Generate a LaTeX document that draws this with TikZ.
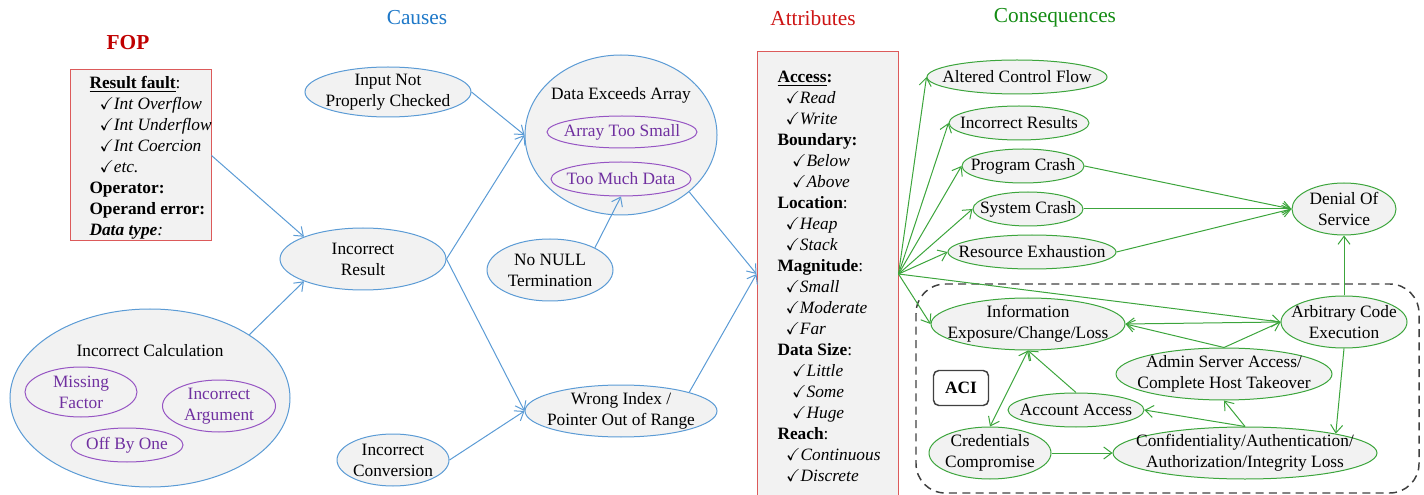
\documentclass[tikz,border=0pt]{standalone}
\usepackage{amsmath}
\usepackage{amssymb}
\usepackage{fontspec}
\setmainfont{Liberation Serif}
\usepackage{tikz}
\usetikzlibrary{shapes.geometric,arrows.meta}
\tikzset{every picture/.style={line width=0.75pt}}

\newcommand{\diagfont}{\fontsize{13}{15.75}\selectfont}
\newcommand{\headfont}{\fontsize{16}{19}\selectfont}
\newcommand{\chk}{$\checkmark$}

\tikzset{
  oval/.style 2 args={ellipse, draw, fill={rgb, 255:red, 242; green, 242; blue, 242}, inner sep=-20pt,
    minimum width=#1*0.75pt, minimum height=#2*0.75pt, align=center, font=\diagfont},
  causeoval/.style={draw={rgb, 255:red, 91; green, 155; blue, 213}},
  subcause/.style={draw={rgb, 255:red, 150; green, 85; blue, 195}, text={rgb, 255:red, 112; green, 48; blue, 160}},
  consoval/.style={draw={rgb, 255:red, 60; green, 165; blue, 60}},
  redbox/.style={draw={rgb, 255:red, 220; green, 90; blue, 90}, fill={rgb, 255:red, 242; green, 242; blue, 242}, inner sep=0pt},
  boxtext/.style={anchor=north west, inner sep=0pt, align=left, font=\diagfont},
  heading/.style={inner sep=0pt, font=\headfont},
  barb/.tip={Straight Barb[length=6pt,width=9pt]},
  causeedge/.style={draw={rgb, 255:red, 91; green, 155; blue, 213}, -barb},
  consedge/.style={draw={rgb, 255:red, 60; green, 165; blue, 60}, -barb},
  acilabel/.style={draw={rgb, 255:red, 64; green, 64; blue, 64}, line width=1.1pt, rounded corners=4pt, fill=white,
    minimum width=55*0.75pt, minimum height=35*0.75pt, font=\diagfont\bfseries}
}

\begin{document}
\begin{tikzpicture}[x=0.75pt,y=0.75pt,yscale=-1,xscale=1]
\useasboundingbox (0,0) rectangle (1424,495);

%Headings
\node [heading, text={rgb, 255:red, 192; green, 0; blue, 0}, font=\headfont\bfseries] (foptitle) at (128,43) {FOP};
\node [heading, text={rgb, 255:red, 30; green, 120; blue, 200}] (causestitle) at (417,18) {Causes};
\node [heading, text={rgb, 255:red, 205; green, 20; blue, 20}] (attrtitle) at (813,18) {Attributes};
\node [heading, text={rgb, 255:red, 20; green, 140; blue, 20}] (constitle) at (1055,18) {Consequences};

%Shape: Rectangle -- FOP
\node [redbox, minimum width=141*0.75pt, minimum height=171*0.75pt] (fop) at (140.5,155.5) {};
\node [boxtext] (foptext) at (89,76) {\textbf{\underline{Result fault}}:\\
  \hspace*{7.5pt}\chk\textit{Int Overflow}\\
  \hspace*{7.5pt}\chk\textit{Int Underflow}\\
  \hspace*{7.5pt}\chk\textit{Int Coercion}\\
  \hspace*{7.5pt}\chk\textit{etc.}\\
  \textbf{Operator:}\\
  \textbf{Operand error:}\\
  \textbf{\textit{Data type}}\textit{:}};

%Shape: Rectangle -- Attributes
\node [redbox, minimum width=141*0.75pt, minimum height=444*0.75pt] (attr) at (827.5,274) {};
\node [boxtext] (attrtext) at (777,71) {\textbf{\underline{Access}:}\\
  \hspace*{6pt}\chk\textit{Read}\\
  \hspace*{6pt}\chk\textit{Write}\\
  \textbf{Boundary:}\\
  \hspace*{11pt}\chk\textit{Below}\\
  \hspace*{11pt}\chk\textit{Above}\\
  \textbf{Location}:\\
  \hspace*{6pt}\chk\textit{Heap}\\
  \hspace*{6pt}\chk\textit{Stack}\\
  \textbf{Magnitude}:\\
  \hspace*{6pt}\chk\textit{Small}\\
  \hspace*{6pt}\chk\textit{Moderate}\\
  \hspace*{6pt}\chk\textit{Far}\\
  \textbf{Data Size}:\\
  \hspace*{11pt}\chk\textit{Little}\\
  \hspace*{11pt}\chk\textit{Some}\\
  \hspace*{11pt}\chk\textit{Huge}\\
  \textbf{Reach}:\\
  \hspace*{6.5pt}\chk\textit{Continuous}\\
  \hspace*{6.5pt}\chk\textit{Discrete}};
\coordinate (P) at (attr.east);

%Shape: Ellipse -- causes
\node [oval={166}{50}, causeoval] (inp) at (388,92) {Input Not\\Properly Checked};
\node [oval={166}{62}, causeoval] (ir) at (363,259) {Incorrect\\Result};
\node [oval={280}{178}, causeoval] (ic) at (150,398) {};
\node [inner sep=0pt, font=\diagfont] (ictitle) at (150,351) {Incorrect Calculation};
\node [oval={112}{50}, subcause] (mf) at (81,392) {Missing\\Factor};
\node [oval={113}{52}, subcause] (ia) at (219,406) {Incorrect\\Argument};
\node [oval={112}{34}, subcause] (obo) at (127,445) {Off By One};
\node [oval={192}{160}, causeoval] (dea) at (621,135) {};
\node [inner sep=0pt, font=\diagfont] (deatitle) at (621,95) {Data Exceeds Array};
\node [oval={150}{32}, subcause] (ats) at (622,132) {Array Too Small};
\node [oval={140}{34}, subcause] (tmd) at (621,179) {Too Much Data};
\node [oval={126}{62}, causeoval] (nonull) at (550,270) {No NULL\\Termination};
\node [oval={192}{52}, causeoval] (wi) at (621,411) {Wrong Index /\\Pointer Out of Range};
\node [oval={112}{52}, causeoval] (iconv) at (393,460) {Incorrect\\Conversion};

%Rounded Rect -- ACI
\draw [draw={rgb, 255:red, 64; green, 64; blue, 64}, line width=1.1pt, dash pattern=on 6pt off 4pt, rounded corners=22pt] (916,284) rectangle (1419,493);

%Shape: Ellipse -- consequences
\node [oval={180}{34}, consoval] (acf) at (1017,77) {Altered Control Flow};
\node [oval={140}{34}, consoval] (irs) at (1019,123) {Incorrect Results};
\node [oval={122}{34}, consoval] (pc) at (1023,166) {Program Crash};
\node [oval={110}{34}, consoval] (sc) at (1028,209) {System Crash};
\node [oval={168}{34}, consoval] (re) at (1032,252) {Resource Exhaustion};
\node [oval={104}{52}, consoval] (dos) at (1344,209) {Denial Of\\Service};
\node [oval={194}{52}, consoval] (info) at (1028,324) {Information\\Exposure/Change/Loss};
\node [oval={126}{52}, consoval] (ace) at (1344,322) {Arbitrary Code\\Execution};
\node [oval={216}{52}, consoval] (admin) at (1224,374) {Admin Server Access/\\Complete Host Takeover};
\node [oval={136}{34}, consoval] (acc) at (1076,410) {Account Access};
\node [oval={122}{52}, consoval] (cred) at (990,453) {Credentials\\Compromise};
\node [oval={264}{52}, consoval] (conf) at (1245,453) {Confidentiality/Authentication/\\Authorization/Integrity Loss};
\node [acilabel] (acilbl) at (961,388) {ACI};

%Straight Lines -- causes
\draw [causeedge] (fop.east) -- (ir.north west);
\draw [causeedge] (ic.north east) -- (ir.south west);
\draw [causeedge] (inp.east) -- (dea.west);
\draw [causeedge] (ir.east) -- (dea.west);
\draw [causeedge] (ir.east) -- (wi.west);
\draw [causeedge] (iconv.east) -- (wi.west);
\draw [causeedge] (nonull.north east) -- (tmd.south);
\draw [causeedge] (dea.south east) -- (attr.west);
\draw [causeedge] (wi.north east) -- (attr.west);

%Straight Lines -- consequences
\draw [consedge] (P) -- (acf.west);
\draw [consedge] (P) -- (irs.west);
\draw [consedge] (P) -- (pc.west);
\draw [consedge] (P) -- (sc.west);
\draw [consedge] (P) -- (re.west);
\draw [consedge] (P) -- (info.west);
\draw [consedge] (P) -- (ace.west);
\draw [consedge] (pc.east) -- (dos.west);
\draw [consedge] (sc.east) -- (dos.west);
\draw [consedge] (re.east) -- (dos.west);
\draw [consedge] (ace.north) -- (dos.south);
\draw [consedge] (ace.west) -- (info.east);
\draw [consedge] (admin.north) -- (info.east);
\draw [consedge] (admin.north) -- (ace.west);
\draw [consedge, barb-barb] (info.south) -- (cred.north);
\draw [consedge] (acc.north) -- (info.south);
\draw [consedge] (ace.south) -- (conf.12);
\draw [consedge] (cred.east) -- (conf.west);
\draw [consedge] (conf.north) -- (acc.east);
\draw [consedge] (conf.north) -- (admin.south);
\end{tikzpicture}
\end{document}
